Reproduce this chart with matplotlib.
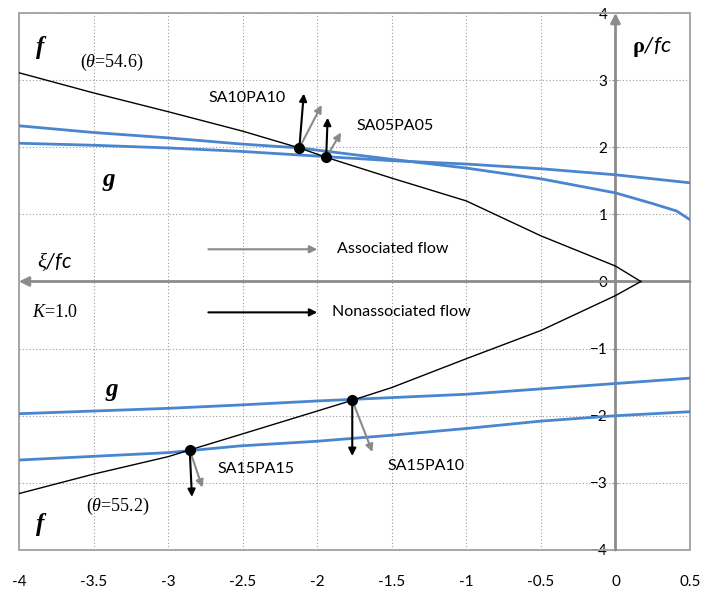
import matplotlib
matplotlib.use("Agg")
from matplotlib import pyplot
from matplotlib.patches import Rectangle

# yield surface f (black) and plastic potentials g (blue)
f_up_x = [-4, -3.5, -3, -2.5, -2.12, -1.94, -1.5, -1, -0.5, 0, 0.17]
f_up_y = [3.11, 2.81, 2.53, 2.24, 1.99, 1.85, 1.54, 1.2, 0.68, 0.23, 0]
f_lo_x = [-4, -3.5, -3, -2.855, -2.5, -2, -1.765, -1.5, -1, -0.5, 0, 0.17]
f_lo_y = [-3.16, -2.87, -2.61, -2.51, -2.27, -1.93, -1.77, -1.58, -1.15, -0.73, -0.21, 0]

gA_x = [-4, -3.5, -3, -2.52, -2.12, -1.5, -1, -0.5, 0, 0.25, 0.41, 0.5]
gA_y = [2.32, 2.22, 2.14, 2.05, 1.99, 1.82, 1.69, 1.53, 1.32, 1.16, 1.05, 0.92]
gB_x = [-4, -3.5, -3, -2.52, -1.94, -1.5, -1, -0.5, 0, 0.5]
gB_y = [2.06, 2.03, 1.99, 1.94, 1.86, 1.80, 1.75, 1.68, 1.59, 1.47]
gC_x = [-4, -3, -2.52, -2, -1.5, -1, -0.5, 0, 0.5]
gC_y = [-1.97, -1.89, -1.84, -1.78, -1.73, -1.68, -1.60, -1.52, -1.44]
gD_x = [-4, -3, -2.52, -2, -1.5, -1, -0.5, 0, 0.5]
gD_y = [-2.66, -2.55, -2.45, -2.38, -2.29, -2.19, -2.08, -2.0, -1.94]

# test points and flow direction arrows
pt_names = ["SA10PA10", "SA05PA05", "SA15PA15", "SA15PA10"]
pt_x = [-2.12, -1.94, -2.855, -1.765]
pt_y = [1.99, 1.85, -2.51, -1.77]
nonassoc_x = [-2.09, -1.93, -2.84, -1.765]
nonassoc_y = [2.80, 2.44, -3.21, -2.60]
assoc_x = [-1.97, -1.84, -2.77, -1.63]
assoc_y = [2.63, 2.22, -3.07, -2.54]

x_ticks = [-4, -3.5, -3, -2.5, -2, -1.5, -1, -0.5, 0, 0.5]
x_tick_labels = ["-4", "-3.5", "-3", "-2.5", "-2", "-1.5", "-1", "-0.5", "0", "0.5"]
y_ticks = [-4, -3, -2, -1, 0, 1, 2, 3, 4]

pyplot.rcParams["font.family"] = ["Lato", "DejaVu Sans"]
pyplot.rcParams["mathtext.fontset"] = "custom"
pyplot.rcParams["mathtext.rm"] = "Liberation Serif"
pyplot.rcParams["mathtext.it"] = "Liberation Serif:italic"
pyplot.rcParams["mathtext.bf"] = "Liberation Serif:bold"
pyplot.rcParams["mathtext.sf"] = "Lato:italic"

blue = "#4a86d0"
grey = "#8c8c8c"

fig = pyplot.figure(figsize=(7.02, 5.92), dpi=100)
ax = fig.add_axes([0.027, 0.071, 0.956, 0.907])
ax.set_xlim(-4, 0.5)
ax.set_ylim(-4, 4)

ax.set_xticks(x_ticks)
ax.set_xticklabels(x_tick_labels)
ax.set_yticks(y_ticks)
ax.grid(True, color="#9a9a9a", linestyle=(0, (1, 2)), linewidth=0.8)
ax.set_axisbelow(True)

for side in ["top", "right", "bottom"]:
    ax.spines[side].set_visible(False)
ax.spines["left"].set_position(("data", 0))
ax.spines["left"].set_visible(False)
ax.add_patch(Rectangle((0, 0), 1, 1, transform=ax.transAxes, fill=False,
                       edgecolor="#a0a0a0", linewidth=1.3, clip_on=False, zorder=1))

ax.tick_params(axis="x", length=0, pad=18, labelsize=11)
ax.tick_params(axis="y", length=4, direction="inout", color=grey, pad=4, labelsize=11)

# coordinate axes with arrow heads
ax.annotate("", xy=(-4, 0), xytext=(0.5, 0),
            arrowprops=dict(arrowstyle="-|>", color=grey, lw=2, mutation_scale=14, shrinkA=0, shrinkB=0))
ax.annotate("", xy=(0, 4), xytext=(0, -4),
            arrowprops=dict(arrowstyle="-|>", color=grey, lw=2, mutation_scale=14, shrinkA=0, shrinkB=0),
            annotation_clip=False)

for gx, gy in [(gA_x, gA_y), (gB_x, gB_y), (gC_x, gC_y), (gD_x, gD_y)]:
    ax.plot(gx, gy, color=blue, lw=2, zorder=3)
ax.plot(f_up_x, f_up_y, color="black", lw=1, zorder=4)
ax.plot(f_lo_x, f_lo_y, color="black", lw=1, zorder=4)

for i in range(len(pt_x)):
    ax.annotate("", xy=(assoc_x[i], assoc_y[i]), xytext=(pt_x[i], pt_y[i]),
                arrowprops=dict(arrowstyle="-|>", color="#8a8a8a", lw=1.5, mutation_scale=11,
                                shrinkA=0, shrinkB=0), zorder=5)
    ax.annotate("", xy=(nonassoc_x[i], nonassoc_y[i]), xytext=(pt_x[i], pt_y[i]),
                arrowprops=dict(arrowstyle="-|>", color="black", lw=1.5, mutation_scale=11,
                                shrinkA=0, shrinkB=0), zorder=6)
ax.plot(pt_x, pt_y, "o", color="black", markersize=7, zorder=7)

# point labels
ax.text(-2.73, 2.74, pt_names[0], fontsize=11.5, va="center")
ax.text(-1.74, 2.32, pt_names[1], fontsize=11.5, va="center")
ax.text(-2.67, -2.80, pt_names[2], fontsize=11.5, va="center")
ax.text(-1.53, -2.75, pt_names[3], fontsize=11.5, va="center")

# legend-like arrows
ax.annotate("", xy=(-2.0, 0.48), xytext=(-2.73, 0.48),
            arrowprops=dict(arrowstyle="-|>", color="#8a8a8a", lw=1.5, mutation_scale=11, shrinkA=0, shrinkB=0))
ax.annotate("", xy=(-2.0, -0.46), xytext=(-2.73, -0.46),
            arrowprops=dict(arrowstyle="-|>", color="black", lw=1.5, mutation_scale=11, shrinkA=0, shrinkB=0))
ax.text(-1.87, 0.48, "Associated flow", fontsize=11.5, va="center")
ax.text(-1.90, -0.46, "Nonassociated flow", fontsize=11.5, va="center")

# serif annotations
serif_bi = dict(family="Liberation Serif", style="italic", weight="bold", fontsize=18,
                ha="center", va="center")
ax.text(-3.86, 3.48, "f", **serif_bi)
ax.text(-3.86, -3.62, "f", **serif_bi)
ax.text(-3.40, 1.52, "g", **serif_bi)
ax.text(-3.38, -1.61, "g", **serif_bi)
ax.text(-3.59, 3.26, r"($\mathit{\theta}$=54.6)", fontsize=13, va="center", family="Liberation Serif")
ax.text(-3.55, -3.35, r"($\mathit{\theta}$=55.2)", fontsize=13, va="center", family="Liberation Serif")
ax.text(-3.91, -0.46, r"$\mathit{K}$=1.0", fontsize=13, va="center", family="Liberation Serif")
ax.text(-3.88, 0.30, r"$\mathit{\xi}\mathsf{/fc}$", fontsize=15, va="center")
ax.text(0.11, 3.5, r"$\mathbf{\rho}\mathsf{/fc}$", fontsize=16, va="center")

fig.savefig("out.png", dpi=100)
